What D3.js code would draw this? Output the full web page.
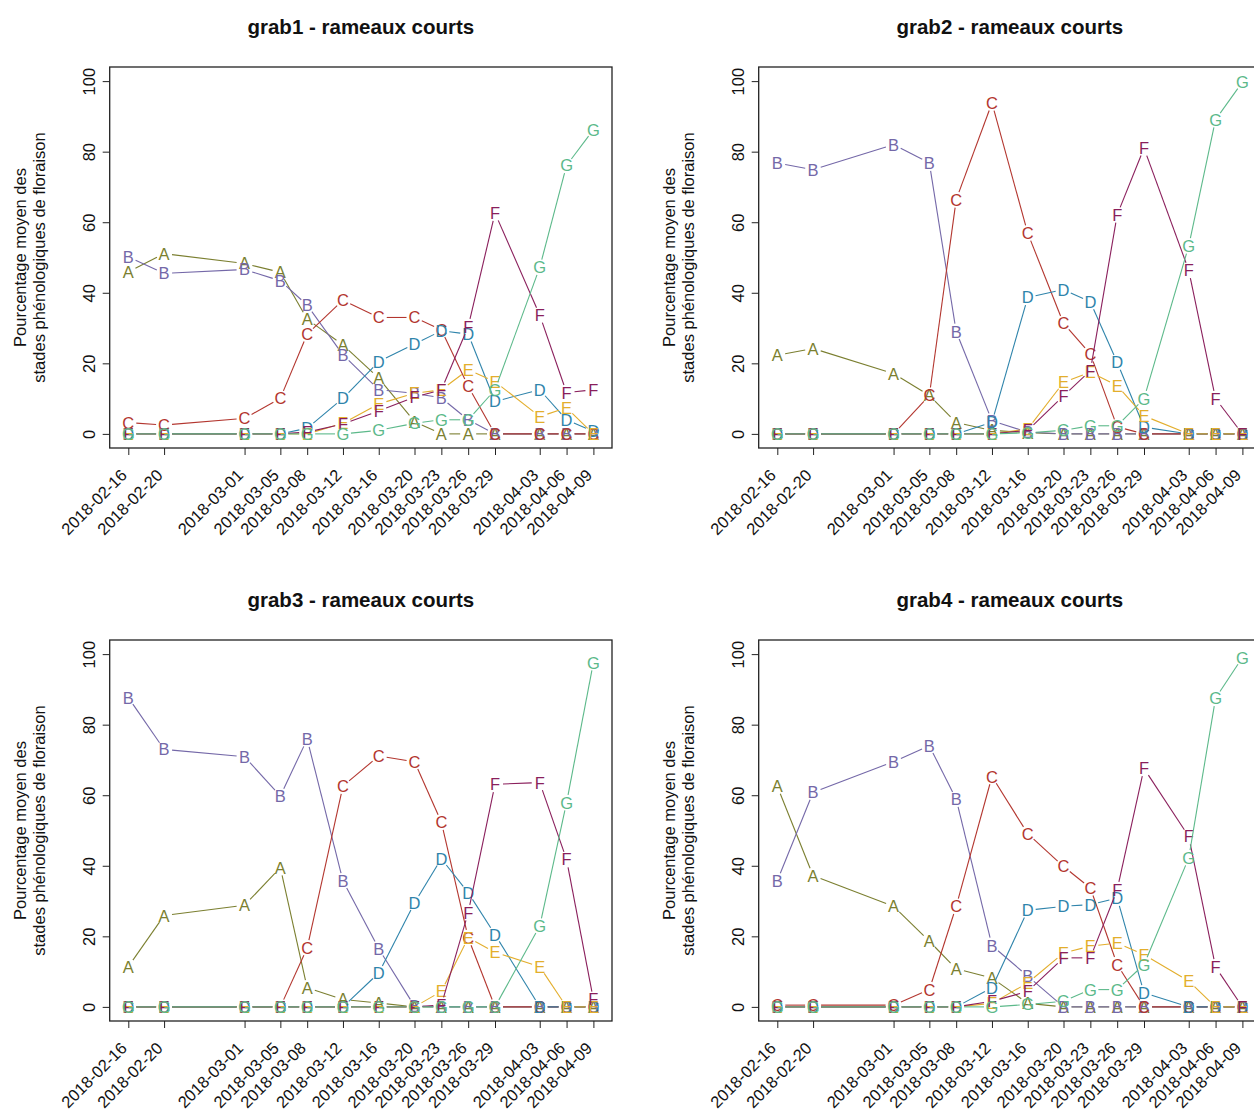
<!DOCTYPE html>
<html>
<head>
<meta charset="utf-8">
<script src="https://cdn.jsdelivr.net/npm/d3@7"></script>
<style>
  body { margin: 0; background: #fff; }
  svg { display: block; }
  text { font-family: "Liberation Sans", Arial, Helvetica, sans-serif; }
</style>
</head>
<body>
<svg id="chart" width="1254" height="1113"></svg>
<script>
// Observation dates (x axis)
const dateLabels = [
  "2018-02-16", "2018-02-20", "2018-03-01", "2018-03-05", "2018-03-08",
  "2018-03-12", "2018-03-16", "2018-03-20", "2018-03-23", "2018-03-26",
  "2018-03-29", "2018-04-03", "2018-04-06", "2018-04-09"
];

// Phenological flowering stages and their colours
const stages = ["A", "B", "C", "D", "E", "F", "G"];
const stageColors = ["#7b7f30", "#7468a8", "#b3362f", "#2f84ab", "#e3ae2c", "#8a1f5c", "#5cb98a"];

const yTicks = [0, 20, 40, 60, 80, 100];

const panelTitles = [
  "grab1 - rameaux courts", "grab2 - rameaux courts",
  "grab3 - rameaux courts", "grab4 - rameaux courts"
];

// Mean percentage per stage (rows A..G), one value per date
const grab1 = [
  [45.9, 51.1, 48.3, 45.8, 32.5, 25.2, 15.8, 3.5, 0, 0, 0, 0, 0, 0],
  [50.2, 45.5, 46.6, 43.4, 36.5, 22.4, 12.5, 11.5, 10.2, 4, 0, 0, 0, 0],
  [3.2, 2.5, 4.4, 10.1, 28.3, 37.9, 33, 33, 29.5, 13.5, 0, 0, 0, 0],
  [0, 0, 0, 0, 1.6, 10.1, 20.5, 25.5, 29.2, 28.3, 9.2, 12.5, 4, 0.7],
  [0, 0, 0, 0, 0, 3, 8.5, 11.5, 12.5, 18.2, 14.8, 4.9, 7.4, 0],
  [0, 0, 0, 0, 0.5, 2.8, 6.5, 10.4, 12.5, 30.4, 62.6, 33.7, 11.7, 12.5],
  [0, 0, 0, 0, 0, 0, 1, 3, 4, 4, 12.5, 47.2, 76.1, 86.2]
];
const grab2 = [
  [22.3, 24.2, 17.1, 10.9, 3.2, 1, 0.3, 0, 0, 0, 0, 0, 0, 0],
  [76.8, 74.9, 82, 76.8, 29, 3.7, 0.5, 0, 0, 0, 0, 0, 0, 0],
  [0, 0, 0, 10.9, 66.4, 93.8, 56.9, 31.3, 22.7, 2, 0, 0, 0, 0],
  [0, 0, 0, 0, 0, 3.3, 38.7, 40.9, 37.4, 20.3, 1.9, 0, 0, 0],
  [0, 0, 0, 0, 0, 0, 1.4, 14.6, 17.5, 13.7, 5.1, 0, 0, 0],
  [0, 0, 0, 0, 0, 0, 1, 10.8, 17.9, 62.1, 81, 46.4, 10, 0],
  [0, 0, 0, 0, 0, 0, 0.3, 1, 2.3, 2.3, 10, 53.3, 89.1, 99.7]
];
const grab3 = [
  [11.4, 25.9, 28.8, 39.5, 5.4, 2.1, 1.1, 0, 0, 0, 0, 0, 0, 0],
  [87.7, 73, 70.9, 59.8, 75.9, 35.7, 16.5, 0.2, 0, 0, 0, 0, 0, 0],
  [0, 0, 0, 0, 16.7, 62.6, 71.1, 69.5, 52.4, 19.6, 0, 0, 0, 0],
  [0, 0, 0, 0, 0, 0, 9.6, 29.5, 42, 32.4, 20.5, 0, 0, 0],
  [0, 0, 0, 0, 0, 0, 0, 0, 4.4, 19.6, 15.5, 11.4, 0, 0],
  [0, 0, 0, 0, 0, 0, 0, 0, 0.5, 26.7, 63.1, 63.6, 41.8, 2.1],
  [0, 0, 0, 0, 0, 0, 0, 0, 0, 0, 0, 22.9, 57.9, 97.6]
];
const grab4 = [
  [62.5, 37.2, 28.5, 18.6, 10.8, 8.2, 1, 0, 0, 0, 0, 0, 0, 0],
  [35.8, 60.8, 69.5, 74, 58.9, 17.4, 8.7, 0, 0, 0, 0, 0, 0, 0],
  [0.5, 0.5, 0.5, 4.9, 28.5, 65.3, 49.1, 39.8, 33.7, 12, 0, 0, 0, 0],
  [0, 0, 0, 0, 0, 5.4, 27.4, 28.5, 29, 30.8, 4, 0, 0, 0],
  [0, 0, 0, 0, 0, 1, 6.8, 15.3, 17.2, 18.1, 14.8, 7.3, 0, 0],
  [0, 0, 0, 0, 0, 1.6, 4.4, 13.9, 13.9, 33.2, 67.6, 48.3, 11.3, 0],
  [0, 0, 0, 0, 0, 0, 0.7, 1.6, 4.9, 4.9, 12, 42.2, 87.5, 99]
];

const panels = [grab1, grab2, grab3, grab4];

const parseDate = d3.utcParse("%Y-%m-%d");
const dates = dateLabels.map(parseDate);

const svg = d3.select("#chart");

// Plot-region geometry of the first panel; the others are shifted copies
const box = { left: 109.7, right: 612, top: 67, bottom: 448 };
const colStep = 649, rowStep = 573;
const gap = 8;           // lines stop short of the letter markers
const fontBase = 16.5;

// x domain padded by 4% on each side, y range 0-100 padded the same way
const span = dates[dates.length - 1] - dates[0];
const x = d3.scaleUtc()
  .domain([new Date(+dates[0] - 0.04 * span), new Date(+dates[dates.length - 1] + 0.04 * span)])
  .range([box.left, box.right]);
const y = d3.scaleLinear().domain([-4, 104]).range([box.bottom, box.top]);

panels.forEach((values, p) => {
  const g = svg.append("g")
    .attr("transform", `translate(${(p % 2) * colStep},${Math.floor(p / 2) * rowStep})`);

  // title
  g.append("text")
    .attr("x", (box.left + box.right) / 2)
    .attr("y", 34)
    .attr("text-anchor", "middle")
    .attr("font-weight", "bold")
    .attr("font-size", 20.5)
    .attr("fill", "#111")
    .text(panelTitles[p]);

  // y-axis title, two lines
  const yMid = (box.top + box.bottom) / 2;
  [["Pourcentage moyen des", 20], ["stades phénologiques de floraison", 39]].forEach(([t, cx]) => {
    g.append("text")
      .attr("transform", `translate(${cx},${yMid}) rotate(-90)`)
      .attr("text-anchor", "middle")
      .attr("dominant-baseline", "central")
      .attr("font-size", 16.5)
      .attr("fill", "#111")
      .text(t);
  });

  // y axis
  const yAxis = d3.axisLeft(y).tickValues(yTicks).tickSize(7).tickPadding(0).tickFormat(d3.format("d"));
  const ya = g.append("g").attr("transform", `translate(${box.left},0)`).call(yAxis);
  ya.select(".domain").remove();
  ya.selectAll(".tick line").attr("stroke", "#222");
  ya.selectAll(".tick text")
    .attr("x", null).attr("dy", null)
    .attr("transform", "translate(-21,0) rotate(-90)")
    .attr("text-anchor", "middle")
    .attr("dominant-baseline", "central")
    .attr("font-size", fontBase)
    .attr("font-family", null)
    .attr("fill", "#111");

  // x axis: one tick per observation date, labels at 45 degrees
  const xAxis = d3.axisBottom(x).tickValues(dates).tickSize(7).tickFormat(d3.utcFormat("%Y-%m-%d"));
  const xa = g.append("g").attr("transform", `translate(0,${box.bottom})`).call(xAxis);
  xa.select(".domain").remove();
  xa.selectAll(".tick line").attr("stroke", "#222");
  xa.selectAll(".tick text")
    .attr("y", null).attr("dy", null)
    .attr("transform", "translate(-5,24) rotate(-45)")
    .attr("text-anchor", "end")
    .attr("dominant-baseline", "central")
    .attr("font-size", fontBase)
    .attr("font-family", null)
    .attr("fill", "#111");

  // plot frame
  g.append("rect")
    .attr("x", box.left).attr("y", box.top)
    .attr("width", box.right - box.left).attr("height", box.bottom - box.top)
    .attr("fill", "none").attr("stroke", "#222").attr("stroke-width", 1.3);

  // series: broken lines with the stage letter at each point
  stages.forEach((s, k) => {
    const pts = values[k].map((v, i) => [x(dates[i]), y(v)]);
    const segs = [];
    for (let i = 0; i < pts.length - 1; i++) {
      const [x1, y1] = pts[i], [x2, y2] = pts[i + 1];
      const len = Math.hypot(x2 - x1, y2 - y1);
      if (len > 2 * gap) {
        const ux = (x2 - x1) / len, uy = (y2 - y1) / len;
        segs.push([x1 + ux * gap, y1 + uy * gap, x2 - ux * gap, y2 - uy * gap]);
      }
    }
    const sg = g.append("g");
    sg.selectAll("line").data(segs).join("line")
      .attr("x1", d => d[0]).attr("y1", d => d[1])
      .attr("x2", d => d[2]).attr("y2", d => d[3])
      .attr("stroke", stageColors[k]).attr("stroke-width", 1.1);
    sg.selectAll("text").data(pts).join("text")
      .attr("x", d => d[0]).attr("y", d => d[1])
      .attr("text-anchor", "middle")
      .attr("dominant-baseline", "central")
      .attr("font-size", fontBase)
      .attr("fill", stageColors[k])
      .text(s);
  });
});
</script>
</body>
</html>
